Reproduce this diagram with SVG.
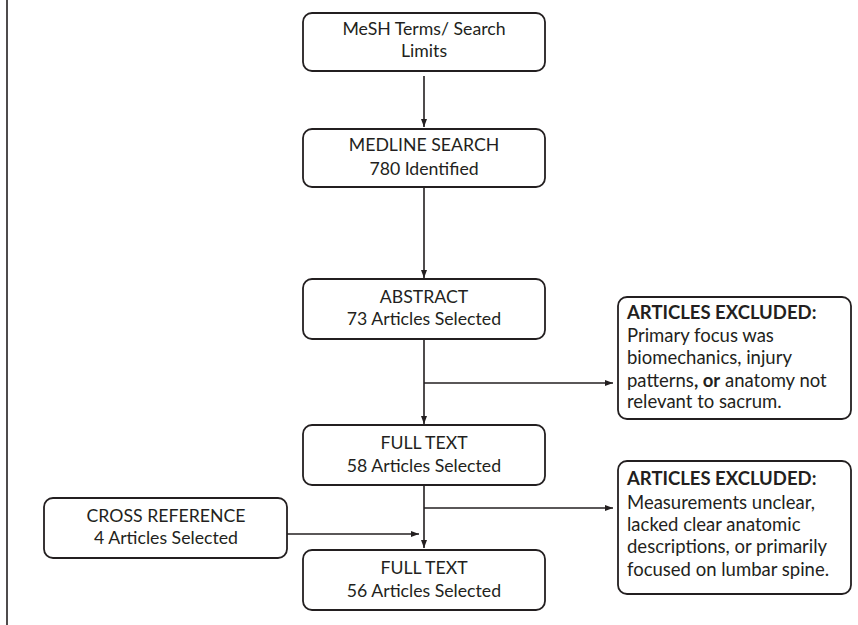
<svg xmlns="http://www.w3.org/2000/svg" width="858" height="625" viewBox="0 0 858 625">
<style>
.box{fill:#fff;stroke:#231f20;stroke-width:1.8}
.t{font-family:Lato,"Open Sans","Liberation Sans",sans-serif;font-size:17.7px;fill:#231f20;text-anchor:middle}
.x{font-family:Lato,"Open Sans","Liberation Sans",sans-serif;font-size:18.5px;fill:#231f20}
.b{font-weight:bold}
.ln{fill:none;stroke:#231f20;stroke-width:1.6}
</style>
<defs>
<marker id="ah" markerUnits="userSpaceOnUse" markerWidth="8" markerHeight="7" refX="8" refY="3.5" orient="auto">
<path d="M0,0.5 L8,3.5 L0,6.5 z" fill="#231f20"/>
</marker>
</defs>
<rect width="858" height="625" fill="#fff"/>
<line x1="7" y1="0" x2="7" y2="625" stroke="#231f20" stroke-width="1.6"/>
<g id="connectors">
<line class="ln" x1="424" y1="76" x2="424" y2="127" marker-end="url(#ah)"/>
<line class="ln" x1="424" y1="187" x2="424" y2="278" marker-end="url(#ah)"/>
<line class="ln" x1="424" y1="339" x2="424" y2="424" marker-end="url(#ah)"/>
<line class="ln" x1="424" y1="383" x2="613" y2="383" marker-end="url(#ah)"/>
<line class="ln" x1="424" y1="485" x2="424" y2="548" marker-end="url(#ah)"/>
<line class="ln" x1="424" y1="508" x2="613" y2="508" marker-end="url(#ah)"/>
<line class="ln" x1="287" y1="534" x2="419" y2="534" marker-end="url(#ah)"/>
</g>
<g id="mesh">
<rect class="box" x="303" y="13" width="242" height="58" rx="9"/>
<text class="t" x="424" y="35">MeSH Terms/ Search</text>
<text class="t" x="424" y="57">Limits</text>
</g>
<g id="medline">
<rect class="box" x="303" y="129" width="242" height="58" rx="9"/>
<text class="t" x="424" y="151">MEDLINE SEARCH</text>
<text class="t" x="424" y="175">780 Identified</text>
</g>
<g id="abstract">
<rect class="box" x="303" y="279" width="242" height="60" rx="9"/>
<text class="t" x="424" y="303">ABSTRACT</text>
<text class="t" x="424" y="325">73 Articles Selected</text>
</g>
<g id="fulltext58">
<rect class="box" x="303" y="425" width="242" height="60" rx="9"/>
<text class="t" x="424" y="449">FULL TEXT</text>
<text class="t" x="424" y="472">58 Articles Selected</text>
</g>
<g id="fulltext56">
<rect class="box" x="303" y="550" width="242" height="60" rx="9"/>
<text class="t" x="424" y="574">FULL TEXT</text>
<text class="t" x="424" y="597">56 Articles Selected</text>
</g>
<g id="crossref">
<rect class="box" x="44" y="498" width="243" height="60" rx="9"/>
<text class="t" x="166" y="522">CROSS REFERENCE</text>
<text class="t" x="166" y="544">4 Articles Selected</text>
</g>
<g id="excluded1">
<rect class="box" x="618" y="297" width="233" height="122" rx="9"/>
<text class="x b" x="627" y="319">ARTICLES EXCLUDED:</text>
<text class="x" x="627" y="342">Primary focus was</text>
<text class="x" x="627" y="364">biomechanics, injury</text>
<text class="x" x="627" y="387">patterns<tspan class="b">, or</tspan> anatomy not</text>
<text class="x" x="627" y="408">relevant to sacrum.</text>
</g>
<g id="excluded2">
<rect class="box" x="618" y="461" width="233" height="133" rx="9"/>
<text class="x b" x="627" y="485">ARTICLES EXCLUDED:</text>
<text class="x" x="627" y="509">Measurements unclear,</text>
<text class="x" x="627" y="531">lacked clear anatomic</text>
<text class="x" x="627" y="553">descriptions, or primarily</text>
<text class="x" x="627" y="576">focused on lumbar spine.</text>
</g>
</svg>
